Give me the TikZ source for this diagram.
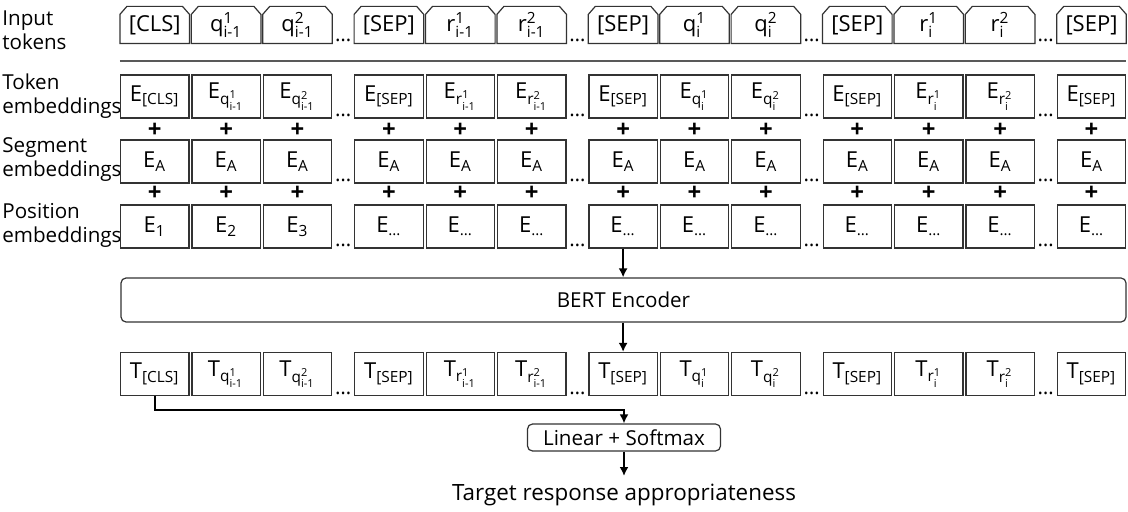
\documentclass[tikz,border=0pt]{standalone}
\usepackage{amsmath}
\usepackage{fontspec}
\setmainfont{Open Sans}
\usetikzlibrary{arrows.meta, calc}

\newcommand{\tsym}[3]{\text{#1}^{\text{#2}}_{\text{#3}}}
\newcommand{\tspc}[1]{\text{#1}}

\begin{document}
\begin{tikzpicture}[x=0.5pt, y=-0.5pt,
  font=\fontsize{10.3}{12}\selectfont,
  cellline/.style={draw=black!80, line width=0.6pt},
  cell/.style={cellline, minimum width=34.2pt, minimum height=21.5pt, inner sep=0pt, font=\fontsize{11}{12}\selectfont},
  intok/.style={cell, draw=none, minimum height=18pt},
  plus/.style={font=\fontsize{12}{12}\selectfont\bfseries, inner sep=0pt},
  gap/.style={anchor=base, inner sep=0pt},
  rowlabel/.style={anchor=west, align=left, inner sep=0pt},
  block/.style={draw=black!80, line width=0.6pt, rounded corners=2.5pt, inner sep=0pt},
  arr/.style={-{Latex[length=4.5pt, width=4.5pt]}, line width=1.1pt}]

\useasboundingbox (0,0) rectangle (1128,512);

% row labels
\node[rowlabel] (lblin) at (2,30) {Input\\tokens};
\node[rowlabel] (lbltok) at (2,96) {Token\\embeddings};
\node[rowlabel] (lblseg) at (2,160) {Segment\\embeddings};
\node[rowlabel] (lblpos) at (2,225) {Position\\embeddings};

% one column per token
\foreach \i/\grp/\tok/\pidx in {
  1/0/{\tspc{[CLS]}}/1, 2/0/{\tsym{q}{1}{i-1}}/2, 3/0/{\tsym{q}{2}{i-1}}/3,
  4/1/{\tspc{[SEP]}}/…, 5/1/{\tsym{r}{1}{i-1}}/…, 6/1/{\tsym{r}{2}{i-1}}/…,
  7/2/{\tspc{[SEP]}}/…, 8/2/{\tsym{q}{1}{i}}/…, 9/2/{\tsym{q}{2}{i}}/…,
  10/3/{\tspc{[SEP]}}/…, 11/3/{\tsym{r}{1}{i}}/…, 12/3/{\tsym{r}{2}{i}}/…,
  13/4/{\tspc{[SEP]}}/…}{
  \pgfmathsetmacro\cx{154.7+(\i-1)*71.4+\grp*20}
  \node[intok] (in\i) at (\cx,25) {$\tok$};
  \draw[cellline] (in\i.south west) -- ([yshift=-4pt]in\i.north west) -- ([xshift=3.5pt]in\i.north west)
    -- ([xshift=-3.5pt]in\i.north east) -- ([yshift=-4pt]in\i.north east) -- (in\i.south east) -- cycle;
  \node[cell] (tok\i) at (\cx,96.5) {$\text{E}_{\tok}$};
  \node[plus] (pa\i) at (\cx,130) {+};
  \node[cell] (seg\i) at (\cx,161.5) {$\text{E}_{\text{A}}$};
  \node[plus] (pb\i) at (\cx,193) {+};
  \node[cell] (pos\i) at (\cx,226.5) {$\text{E}_{\text{\pidx}}$};
  \node[cell] (out\i) at (\cx,374) {$\text{T}_{\tok}$};
}

% dots between the groups
\foreach \j in {3,6,9,12}{
  \pgfmathsetmacro\dx{154.7+(\j-1)*71.4+(\j/3-1)*20+45.7}
  \foreach \r/\b in {in/42, tok/117, seg/182, pos/247, out/395}{
    \node[gap] (dot\r\j) at (\dx,\b) {…};
  }
}

\draw[black!65, line width=1pt] ([yshift=6.5pt]tok1.north west) -- ([yshift=6.5pt]tok13.north east);

\node[block, minimum width=502.5pt, minimum height=22pt] (bert) at (623.5,300) {BERT Encoder};
\node[block, minimum width=96.5pt, minimum height=13.5pt] (lin) at (624,437.5) {Linear + Softmax};
\node[anchor=north, inner sep=4pt, font=\fontsize{11.2}{13}\selectfont] (target) at (624,476) {Target response appropriateness};

\draw[arr] (pos7.south) -- (pos7.south |- bert.north);
\draw[arr] (out7.north |- bert.south) -- (out7.north);
\coordinate (join) at (624,410);
\draw[arr] (out1.south) |- (join) -- (lin.north);
\draw[arr] (lin.south) -- (target.north);
\end{tikzpicture}
\end{document}
